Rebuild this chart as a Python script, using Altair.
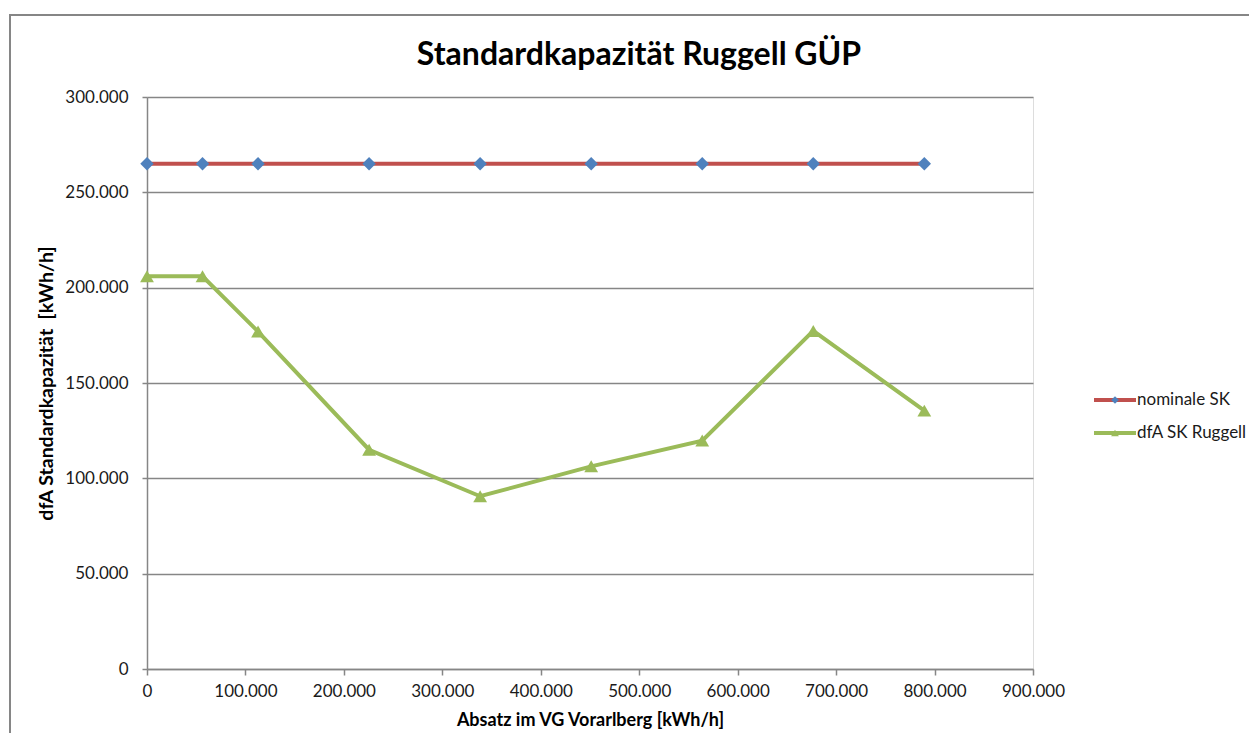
import altair as alt
import pandas as pd

absatz = [0, 56400, 112800, 225600, 338400, 451200, 564000, 676800, 789600]
nominale_sk = [265000, 265000, 265000, 265000, 265000, 265000, 265000, 265000, 265000]
dfa_sk_ruggell = [206000, 206000, 177000, 115000, 90600, 106300, 119800, 177300, 135500]
series_names = ["nominale SK", "dfA SK Ruggell"]
chart_title = ["Standardkapazität Ruggell GÜP"]

x_ticks = [0, 100000, 200000, 300000, 400000, 500000, 600000, 700000, 800000, 900000]
y_ticks = [0, 50000, 100000, 150000, 200000, 250000, 300000]

FONT = "Lato"
RED = "#C0504D"
BLUE = "#4F81BD"
GREEN = "#9BBB59"
GRID = "#868686"
TXT = "#1a1a1a"

df_nom = pd.DataFrame({"x": absatz, "y": nominale_sk, "s": series_names[0]})
df_dfa = pd.DataFrame({"x": absatz, "y": dfa_sk_ruggell, "s": series_names[1]})

W, H = 886, 572
lbl = "datum.value == 0 ? '0' : format(datum.value / 1000, 'd') + '.000'"

x_enc = alt.X(
    "x:Q",
    scale=alt.Scale(domain=[0, 900000], nice=False),
    axis=alt.Axis(
        values=x_ticks, labelExpr=lbl, grid=False,
        labelFlush=False, labelOverlap=False,
        title="Absatz im VG Vorarlberg [kWh/h]",
        titleFont=FONT, titleFontSize=18, titleFontWeight="bold", titleColor="#000000",
        titlePadding=12,
        labelFont=FONT, labelFontSize=17, labelColor=TXT, labelPadding=8,
        domainColor=GRID, domainWidth=1.5, tickColor=GRID, tickWidth=1.5, tickSize=6,
    ),
)
y_enc = alt.Y(
    "y:Q",
    scale=alt.Scale(domain=[0, 300000], nice=False),
    axis=alt.Axis(
        values=y_ticks, labelExpr=lbl, grid=True, gridColor=GRID, gridWidth=1.5,
        labelFlush=False, labelOverlap=False,
        title="dfA Standardkapazität\u00a0 [kWh/h]",
        titleFont=FONT, titleFontSize=19.5, titleFontWeight="bold", titleColor="#000000",
        titlePadding=8,
        labelFont=FONT, labelFontSize=17, labelColor=TXT, labelPadding=14,
        domainColor=GRID, domainWidth=1.5, tickColor=GRID, tickWidth=1.5, tickSize=5,
    ),
)

base_nom = alt.Chart(df_nom)
base_dfa = alt.Chart(df_dfa)

line_nom = base_nom.mark_line(color=RED, strokeWidth=4).encode(x=x_enc, y=y_enc)
pts_nom = base_nom.mark_point(shape="diamond", filled=True, color=BLUE, size=180, opacity=1).encode(x="x:Q", y="y:Q")
line_dfa = base_dfa.mark_line(color=GREEN, strokeWidth=4).encode(x="x:Q", y="y:Q")
pts_dfa = base_dfa.mark_point(shape="triangle-up", filled=True, color=GREEN, size=190, opacity=1).encode(x="x:Q", y="y:Q")

# outer frame
frame = alt.Chart(pd.DataFrame({"a": [0]})).mark_rect(
    fill=None, stroke=GRID, strokeWidth=2
).encode(x=alt.value(-137), x2=alt.value(1300), y=alt.value(-82), y2=alt.value(800))

# chart title as text
title = alt.Chart(pd.DataFrame({"t": chart_title})).mark_text(
    align="center", baseline="alphabetic", font=FONT, fontSize=32, fontWeight="bold", color="#000000"
).encode(x=alt.value(492), y=alt.value(-32), text="t:N")

# manual legend
leg_layers = []
for name, ly, lc, mc, shp in [
    (series_names[0], 303, RED, BLUE, "diamond"),
    (series_names[1], 336, GREEN, GREEN, "triangle-up"),
]:
    d = pd.DataFrame({"s": [name]})
    leg_layers.append(
        alt.Chart(d).mark_rule(color=lc, strokeWidth=4).encode(
            x=alt.value(947), x2=alt.value(989), y=alt.value(ly)
        )
    )
    leg_layers.append(
        alt.Chart(d).mark_point(shape=shp, filled=True, color=mc, size=60, opacity=1).encode(
            x=alt.value(968), y=alt.value(ly)
        )
    )
    leg_layers.append(
        alt.Chart(d).mark_text(align="left", baseline="middle", font=FONT, fontSize=17, color=TXT).encode(
            x=alt.value(990), y=alt.value(ly), text="s:N"
        )
    )

chart = alt.layer(frame, title, line_nom, line_dfa, pts_nom, pts_dfa, *leg_layers).properties(
    width=W,
    height=H,
    autosize=alt.AutoSizeParams(type="none"),
    padding={"left": 139, "top": 89, "right": 216, "bottom": 64},
).configure_view(stroke=None).configure(background="white")

chart.save("out.html", embed_options={"renderer": "svg", "actions": False})
